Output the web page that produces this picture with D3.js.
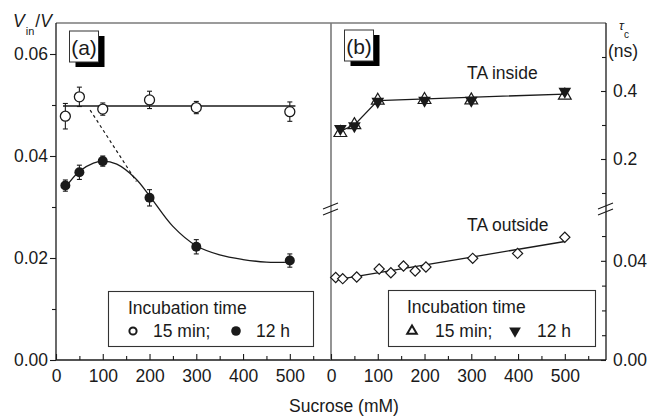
<!DOCTYPE html>
<html><head><meta charset="utf-8">
<script src="https://cdn.jsdelivr.net/npm/d3@7"></script>
<style>
body{margin:0;background:#fff}
svg{display:block;font-family:"Liberation Sans",Arial,Helvetica,sans-serif}
</style>
</head><body>
<svg id="chart" width="650" height="418"></svg>
<script>
// ---------- data ----------
// Panel (a): V_in/V vs sucrose concentration
const sucroseA = [20, 50, 100, 200, 300, 500];
const vin15 = [0.0478, 0.0516, 0.0492, 0.0510, 0.0495, 0.0487];
const vin15Err = [0.0025, 0.0019, 0.0012, 0.0017, 0.0012, 0.0019];
const vin12 = [0.0342, 0.0368, 0.0390, 0.0318, 0.0222, 0.0195];
const vin12Err = [0.0011, 0.0014, 0.0010, 0.0016, 0.0014, 0.0013];
const vin15Fit = [[15, 0.0498], [512, 0.0498]];
const vin12Fit = [[20, 0.0338], [50, 0.0370], [80, 0.0386], [100, 0.0390], [130, 0.0384],
                  [170, 0.0356], [200, 0.0322], [250, 0.0262], [300, 0.0224], [350, 0.0206],
                  [400, 0.0197], [450, 0.0192], [500, 0.0192]];
const trendDash = [[73, 0.0490], [172, 0.0350]];

// Panel (b): rotational correlation time of TA
const sucroseIn = [20, 50, 100, 200, 300, 500];
const tauIn15 = [0.277, 0.300, 0.372, 0.374, 0.373, 0.387];
const tauIn12 = [0.289, 0.297, 0.369, 0.372, 0.372, 0.399];
const tauInFit = [[20, 0.282], [50, 0.300], [100, 0.372], [500, 0.391]];
const sucroseOut = [10, 25, 55, 103, 128, 155, 180, 203, 303, 399, 500];
const tauOut = [0.0333, 0.0328, 0.0335, 0.0367, 0.0352, 0.0379, 0.0359, 0.0375, 0.0410, 0.0430, 0.0495];
const tauOutFit = [[10, 0.0323], [500, 0.0478]];

// ticks
const xMajor = [0, 100, 200, 300, 400, 500];
const xMinor = [50, 150, 250, 350, 450, 550];
const yAMajor = [0, 0.02, 0.04, 0.06];
const yAMinor = [0.01, 0.03, 0.05];
const yBUpMajor = [0.2, 0.4];
const yBUpMinor = [0.1, 0.3, 0.5];
const yBLowMajor = [0, 0.04];
const yBLowMinor = [0.01, 0.02, 0.03, 0.05];

// ---------- layout ----------
const svg = d3.select("#chart");
const FS = 17.5;
const ink = "#1a1a1a";
const xA = d3.scaleLinear([0, 587], [56, 330.5]);
const xB = d3.scaleLinear([0, 587], [331, 605.5]);
const yA = d3.scaleLinear([0, 0.066], [360, 23.4]);
const yBUp = d3.scaleLinear([0.05, 0.6], [210, 23]);
const yBLow = d3.scaleLinear([0, 0.0605], [360, 210]);
const frameTop = 23, frameBottom = 360;

function styleAxis(g) {
  g.select(".domain").remove();
  g.selectAll(".tick line").attr("stroke", ink).attr("stroke-width", 1.1);
  g.selectAll(".tick text").attr("fill", ink).attr("font-size", FS);
  g.attr("font-family", null).attr("font-size", null);
}

// frame lines
svg.append("line").attr("x1", 56).attr("x2", 606).attr("y1", frameTop).attr("y2", frameTop)
  .attr("stroke", "#7a7a7a").attr("stroke-width", 1.3);
svg.append("line").attr("x1", 56).attr("x2", 606).attr("y1", frameBottom).attr("y2", frameBottom)
  .attr("stroke", ink).attr("stroke-width", 1.3);
svg.append("line").attr("x1", 56).attr("x2", 56).attr("y1", frameTop).attr("y2", frameBottom)
  .attr("stroke", ink).attr("stroke-width", 1.3);
svg.append("line").attr("x1", 606).attr("x2", 606).attr("y1", frameTop).attr("y2", frameBottom)
  .attr("stroke", ink).attr("stroke-width", 1.3);
svg.append("line").attr("x1", 331).attr("x2", 331).attr("y1", frameTop).attr("y2", frameBottom)
  .attr("stroke", "#7a7a7a").attr("stroke-width", 1.6);

// axis break marks on the divider and on the right axis
[331, 606].forEach(cx => {
  [0, 6].forEach(off => {
    svg.append("line")
      .attr("x1", cx - 8).attr("y1", 209 + off).attr("x2", cx + 7).attr("y2", 203 + off)
      .attr("stroke", ink).attr("stroke-width", 1.1);
  });
});

// bottom axes (ticks point inward)
[xA, xB].forEach(xs => {
  svg.append("g").attr("transform", `translate(0,${frameBottom})`)
    .call(d3.axisBottom(xs).tickValues(xMajor).tickSize(-6).tickSizeOuter(0).tickPadding(10))
    .call(styleAxis);
  svg.append("g").attr("transform", `translate(0,${frameBottom})`)
    .call(d3.axisBottom(xs).tickValues(xMinor).tickSize(-4).tickSizeOuter(0).tickFormat(""))
    .call(styleAxis);
});

// left axis (a)
svg.append("g").attr("transform", "translate(56,0)")
  .call(d3.axisLeft(yA).tickValues(yAMajor).tickSize(6).tickSizeOuter(0).tickPadding(2)
    .tickFormat(d3.format(".2f")))
  .call(styleAxis);
svg.append("g").attr("transform", "translate(56,0)")
  .call(d3.axisLeft(yA).tickValues(yAMinor).tickSize(4).tickSizeOuter(0).tickFormat(""))
  .call(styleAxis);

// right axis (b), broken into two segments
svg.append("g").attr("transform", "translate(606,0)")
  .call(d3.axisRight(yBUp).tickValues(yBUpMajor).tickSize(-5).tickSizeOuter(0).tickPadding(7)
    .tickFormat(d3.format(".1f")))
  .call(styleAxis);
svg.append("g").attr("transform", "translate(606,0)")
  .call(d3.axisRight(yBUp).tickValues(yBUpMinor).tickSize(-4).tickSizeOuter(0).tickFormat(""))
  .call(styleAxis);
svg.append("g").attr("transform", "translate(606,0)")
  .call(d3.axisRight(yBLow).tickValues(yBLowMajor).tickSize(-5).tickSizeOuter(0).tickPadding(7)
    .tickFormat(d3.format(".2f")))
  .call(styleAxis);
svg.append("g").attr("transform", "translate(606,0)")
  .call(d3.axisRight(yBLow).tickValues(yBLowMinor).tickSize(-4).tickSizeOuter(0).tickFormat(""))
  .call(styleAxis);

// axis titles
const vt = svg.append("text").attr("x", 13).attr("y", 27).attr("font-size", FS).attr("fill", ink);
vt.append("tspan").attr("font-style", "italic").text("V");
vt.append("tspan").attr("font-size", 11).attr("dy", 8).attr("dx", 1).text("in");
vt.append("tspan").attr("dy", -8).attr("dx", 1).text("/");
vt.append("tspan").attr("font-style", "italic").text("V");

const tt = svg.append("text").attr("x", 619).attr("y", 30).attr("fill", ink);
tt.append("tspan").attr("font-size", 13).attr("font-style", "italic").text("τ");
tt.append("tspan").attr("font-size", 10).attr("dy", 8).text("c");
svg.append("text").attr("x", 608).attr("y", 57).attr("font-size", FS).attr("fill", ink).text("(ns)");

svg.append("text").attr("x", 344).attr("y", 412).attr("text-anchor", "middle")
  .attr("font-size", FS).attr("fill", ink).text("Sucrose (mM)");

// panel labels with drop shadow
function panelLabel(x, y, label) {
  svg.append("rect").attr("x", x + 6).attr("y", y + 5).attr("width", 29).attr("height", 31).attr("fill", "#000");
  svg.append("rect").attr("x", x).attr("y", y).attr("width", 29).attr("height", 31)
    .attr("fill", "#fff").attr("stroke", "#333").attr("stroke-width", 1);
  svg.append("text").attr("x", x + 14.5).attr("y", y + 24).attr("text-anchor", "middle")
    .attr("font-size", 21).attr("fill", ink).text(label);
}
panelLabel(69.5, 31, "(a)");
panelLabel(344.5, 30, "(b)");

// ---------- panel (a) ----------
const lineA = d3.line().x(d => xA(d[0])).y(d => yA(d[1]));
svg.append("path").attr("d", lineA(vin15Fit)).attr("fill", "none").attr("stroke", ink).attr("stroke-width", 1.3);
svg.append("path").attr("d", d3.line().x(d => xA(d[0])).y(d => yA(d[1])).curve(d3.curveCatmullRom)(vin12Fit))
  .attr("fill", "none").attr("stroke", ink).attr("stroke-width", 1.3);
svg.append("path").attr("d", lineA(trendDash)).attr("fill", "none")
  .attr("stroke", ink).attr("stroke-width", 1.2).attr("stroke-dasharray", "3,3");

function errorBars(xs, ys, vals, errs) {
  const g = svg.append("g").attr("stroke", ink).attr("stroke-width", 1.1);
  vals.forEach((v, i) => {
    const x = xs(sucroseA[i]);
    const y1 = ys(v - errs[i]), y2 = ys(v + errs[i]);
    g.append("line").attr("x1", x).attr("x2", x).attr("y1", y1).attr("y2", y2);
    g.append("line").attr("x1", x - 2.5).attr("x2", x + 2.5).attr("y1", y1).attr("y2", y1);
    g.append("line").attr("x1", x - 2.5).attr("x2", x + 2.5).attr("y1", y2).attr("y2", y2);
  });
}
errorBars(xA, yA, vin15, vin15Err);
errorBars(xA, yA, vin12, vin12Err);

svg.append("g").selectAll("circle").data(vin15).join("circle")
  .attr("cx", (d, i) => xA(sucroseA[i])).attr("cy", d => yA(d)).attr("r", 5)
  .attr("fill", "#fff").attr("stroke", ink).attr("stroke-width", 1.3);
svg.append("g").selectAll("circle").data(vin12).join("circle")
  .attr("cx", (d, i) => xA(sucroseA[i])).attr("cy", d => yA(d)).attr("r", 5)
  .attr("fill", ink);

// ---------- panel (b) ----------
svg.append("path").attr("d", d3.line().x(d => xB(d[0])).y(d => yBUp(d[1]))(tauInFit))
  .attr("fill", "none").attr("stroke", ink).attr("stroke-width", 1.3);
svg.append("path").attr("d", d3.line().x(d => xB(d[0])).y(d => yBLow(d[1]))(tauOutFit))
  .attr("fill", "none").attr("stroke", ink).attr("stroke-width", 1.3);

const triSym = d3.symbol().type(d3.symbolTriangle).size(70);
svg.append("g").selectAll("path").data(tauIn12).join("path")
  .attr("d", triSym)
  .attr("transform", (d, i) => `translate(${xB(sucroseIn[i])},${yBUp(d)}) rotate(180)`)
  .attr("fill", ink);
svg.append("g").selectAll("path").data(tauIn15).join("path")
  .attr("d", triSym)
  .attr("transform", (d, i) => `translate(${xB(sucroseIn[i])},${yBUp(d)})`)
  .attr("fill", "none").attr("stroke", ink).attr("stroke-width", 1.2);

svg.append("g").selectAll("path").data(tauOut).join("path")
  .attr("d", d3.symbol().type(d3.symbolSquare).size(52))
  .attr("transform", (d, i) => `translate(${xB(sucroseOut[i])},${yBLow(d)}) rotate(45)`)
  .attr("fill", "#fff").attr("stroke", ink).attr("stroke-width", 1.2);

svg.append("text").attr("x", 467).attr("y", 79).attr("font-size", FS).attr("fill", ink).text("TA inside");
svg.append("text").attr("x", 467).attr("y", 231).attr("font-size", FS).attr("fill", ink).text("TA outside");

// ---------- legends ----------
function legendBox(x, y, w, h) {
  svg.append("rect").attr("x", x).attr("y", y).attr("width", w).attr("height", h)
    .attr("fill", "#fff").attr("stroke", "#333").attr("stroke-width", 1.1);
}
legendBox(108.5, 291.5, 205, 55);
svg.append("text").attr("x", 128).attr("y", 314).attr("font-size", FS).attr("fill", ink).text("Incubation time");
svg.append("circle").attr("cx", 133).attr("cy", 331).attr("r", 3.6).attr("fill", "#fff")
  .attr("stroke", ink).attr("stroke-width", 2);
svg.append("text").attr("x", 153).attr("y", 337).attr("font-size", FS).attr("fill", ink).text("15 min;");
svg.append("circle").attr("cx", 236).attr("cy", 331).attr("r", 4.8).attr("fill", ink);
svg.append("text").attr("x", 256).attr("y", 337).attr("font-size", FS).attr("fill", ink).text("12 h");

legendBox(388.5, 290.5, 207, 56);
svg.append("text").attr("x", 407).attr("y", 313).attr("font-size", FS).attr("fill", ink).text("Incubation time");
svg.append("path").attr("d", d3.symbol().type(d3.symbolTriangle).size(40))
  .attr("transform", "translate(412,331)").attr("fill", "#fff").attr("stroke", ink).attr("stroke-width", 2);
svg.append("text").attr("x", 435).attr("y", 337).attr("font-size", FS).attr("fill", ink).text("15 min;");
svg.append("path").attr("d", d3.symbol().type(d3.symbolTriangle).size(60))
  .attr("transform", "translate(515,331) rotate(180)").attr("fill", ink);
svg.append("text").attr("x", 537).attr("y", 337).attr("font-size", FS).attr("fill", ink).text("12 h");
</script>
</body></html>
